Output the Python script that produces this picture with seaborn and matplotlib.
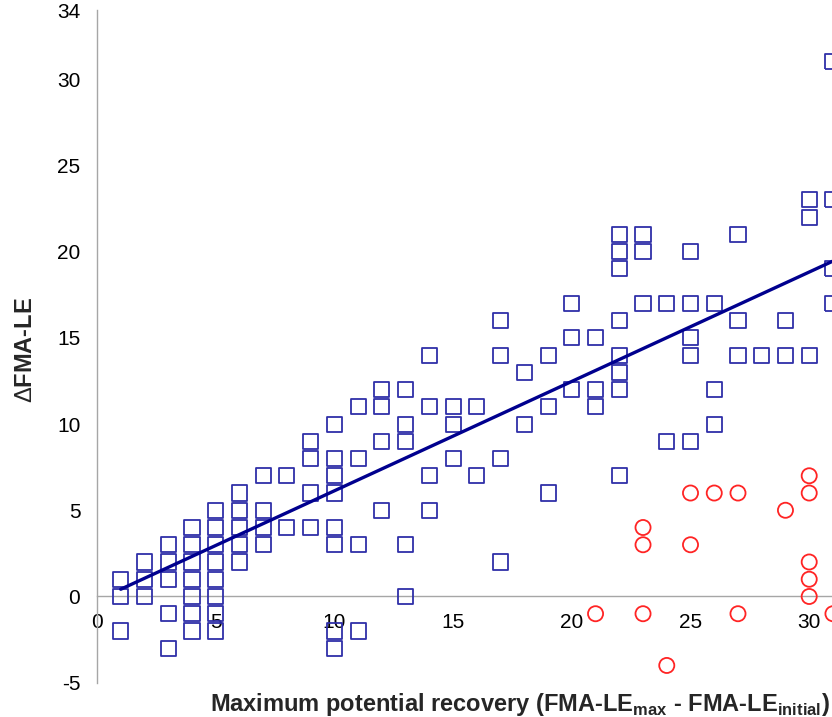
import numpy as np
import pandas as pd
import matplotlib
matplotlib.use("Agg")
import matplotlib.pyplot as plt
import seaborn as sns

# ---- data ----
blue_x = [1, 1, 1,
          2, 2, 2,
          3, 3, 3, 3, 3,
          4, 4, 4, 4, 4, 4, 4,
          5, 5, 5, 5, 5, 5, 5, 5,
          6, 6, 6, 6, 6,
          7, 7, 7, 7,
          8, 8,
          9, 9, 9, 9,
          10, 10, 10, 10, 10, 10, 10, 10,
          11, 11, 11, 11,
          12, 12, 12, 12,
          13, 13, 13, 13, 13,
          14, 14, 14, 14,
          15, 15, 15,
          16, 16,
          17, 17, 17, 17,
          18, 18,
          19, 19, 19,
          20, 20, 20,
          21, 21, 21,
          22, 22, 22, 22, 22, 22, 22, 22,
          23, 23, 23,
          24, 24,
          25, 25, 25, 25, 25,
          26, 26, 26,
          27, 27, 27,
          28,
          29, 29,
          30, 30, 30,
          31, 31, 31, 31]
blue_y = [1, 0, -2,
          2, 1, 0,
          3, 2, 1, -1, -3,
          4, 3, 2, 1, 0, -1, -2,
          5, 4, 3, 2, 1, 0, -1, -2,
          6, 5, 4, 3, 2,
          7, 5, 4, 3,
          7, 4,
          9, 8, 6, 4,
          10, 8, 7, 6, 4, 3, -2, -3,
          11, 8, 3, -2,
          12, 11, 9, 5,
          12, 10, 9, 3, 0,
          14, 11, 7, 5,
          11, 10, 8,
          11, 7,
          16, 14, 8, 2,
          13, 10,
          14, 11, 6,
          17, 15, 12,
          15, 12, 11,
          21, 20, 19, 16, 14, 13, 12, 7,
          21, 20, 17,
          17, 9,
          20, 17, 15, 14, 9,
          17, 12, 10,
          21, 16, 14,
          14,
          16, 14,
          23, 22, 14,
          31, 23, 19, 17]

red_x = [21, 23, 23, 23, 24, 25, 25, 26, 27, 27, 29, 30, 30, 30, 30, 30, 31]
red_y = [-1, 4, 3, -1, -4, 6, 3, 6, 6, -1, 5, 7, 6, 2, 1, 0, -1]

# trend line end points
trend_x = [1, 31]
trend_y = [0.42, 19.45]

x_ticks = [0, 5, 10, 15, 20, 25, 30]
y_ticks = [-5, 0, 5, 10, 15, 20, 25, 30, 34]

blue = pd.DataFrame({"x": blue_x, "y": blue_y})
red = pd.DataFrame({"x": red_x, "y": red_y})
trend = pd.DataFrame({"x": trend_x, "y": trend_y})

sns.set_style("white")
plt.rcParams["font.family"] = ["Liberation Sans", "DejaVu Sans"]
plt.rcParams["mathtext.fontset"] = "custom"
plt.rcParams["mathtext.rm"] = "Liberation Sans"
plt.rcParams["mathtext.bf"] = "Liberation Sans:bold"
plt.rcParams["axes.unicode_minus"] = False

W, H = 832, 717
fig = plt.figure(figsize=(W / 100, H / 100), dpi=100)
left_px, right_px, top_px, bot_px = 97, 832, 10.2, 682.7
ax = fig.add_axes([left_px / W, 1 - bot_px / H, (right_px - left_px) / W, (bot_px - top_px) / H])

BLUE = "#2F2FA8"
RED = "#FF2424"
LINE = "#00008E"

sns.scatterplot(data=blue, x="x", y="y", marker="s", s=118, fc="none",
                ec=BLUE, linewidth=1.3, ax=ax, zorder=3, legend=False)
sns.scatterplot(data=red, x="x", y="y", marker="o", s=118, fc="none",
                ec=RED, linewidth=1.3, ax=ax, zorder=3, legend=False)
sns.lineplot(data=trend, x="x", y="y", color=LINE, lw=2.4, ax=ax, zorder=4)

ax.set_xlim(0, 30.96)
ax.set_ylim(-5, 34)
ax.set_xticks(x_ticks)
ax.set_yticks(y_ticks)
ax.set_xlabel("")
ax.set_ylabel("")

for s in ["top", "right"]:
    ax.spines[s].set_visible(False)
ax.spines["bottom"].set_position(("data", 0))
for s in ["left", "bottom"]:
    ax.spines[s].set_color("#A6A6A6")
    ax.spines[s].set_linewidth(1.0)
    ax.spines[s].set_zorder(1)

ax.tick_params(axis="both", direction="out", length=5, width=1.0, color="#A6A6A6",
               labelsize=15, labelcolor="black", pad=7)
ax.yaxis.get_major_ticks()[-1].tick1line.set_visible(False)

fig.text(210 / W, (H - 711.5) / H,
         r"Maximum potential recovery (FMA-LE$_{\mathbf{max}}$ - FMA-LE$_{\mathbf{initial}}$)",
         fontsize=17, fontweight="bold", ha="left", va="baseline")
fig.text(26 / W, 1 - 349.5 / H, r"$\mathrm{\Delta}$FMA-LE", fontsize=17,
         fontweight="bold", rotation=90, ha="center", va="center")

fig.savefig("out.png", dpi=100)
